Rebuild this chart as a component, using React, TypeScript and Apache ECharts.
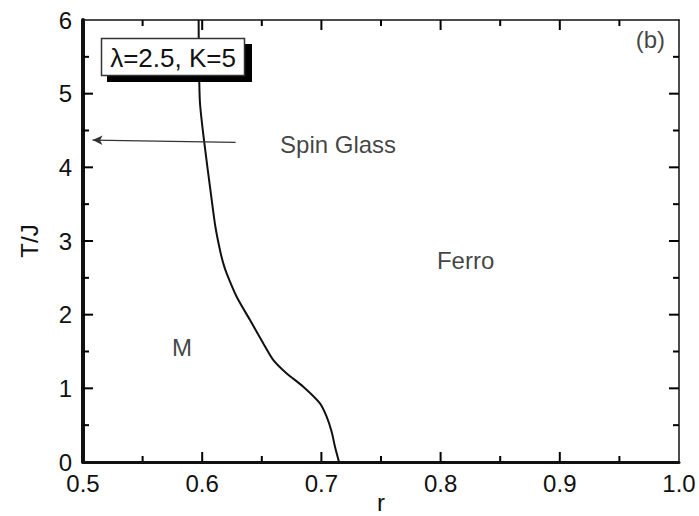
import React, { useEffect, useRef } from "react";
import * as echarts from "echarts";

// Phase boundary T_c(r)
const boundaryT = [0, 0.208, 0.411, 0.615, 0.796, 1.022, 1.203, 1.384, 1.61, 1.927, 2.243, 2.56, 2.696, 2.877, 3.2, 3.555, 4.37, 4.91, 6.0];
const boundaryR = [0.7148, 0.7114, 0.7086, 0.7044, 0.6988, 0.6848, 0.6709, 0.6597, 0.6513, 0.6401, 0.6289, 0.6205, 0.6177, 0.6149, 0.611, 0.608, 0.6015, 0.598, 0.597];

// Arrow annotation (from -> to)
const arrowFrom = [0.628, 4.34];
const arrowTo = [0.508, 4.37];

// Region labels
const labelTexts = ["Spin Glass", "Ferro", "M", "(b)"];
const labelR = [0.714, 0.821, 0.583, 0.976];
const labelT = [4.315, 2.74, 1.55, 5.73];

// Tick positions (inward ticks on all four sides)
const xMajorTicks = [0.6, 0.7, 0.8, 0.9];
const xMinorTicks = [0.55, 0.65, 0.75, 0.85, 0.95];
const yMajorTicks = [1, 2, 3, 4, 5];
const yMinorTicks = [0.5, 1.5, 2.5, 3.5, 4.5, 5.5];

const xTickLabels = ["0.5", "0.6", "0.7", "0.8", "0.9", "1.0"];
const legendText = "λ=2.5, K=5";

const FONT = "'Liberation Sans', Arial, Helvetica, sans-serif";
const INK = "#111111";
const X_MIN = 0.5, X_MAX = 1.0, Y_MIN = 0, Y_MAX = 6;

export default function App() {
  const ref = useRef<HTMLDivElement>(null);
  useEffect(() => {
    document.body.style.margin = "0";
    if (!ref.current) return;
    const chart = echarts.init(ref.current, undefined, { renderer: "svg" });
    const ax = (pos: string, isX: boolean, lineWidth: number) => ({
      type: "value",
      min: isX ? X_MIN : Y_MIN,
      max: isX ? X_MAX : Y_MAX,
      interval: isX ? 0.1 : 1,
      position: pos,
      axisLine: { show: true, onZero: false, lineStyle: { color: INK, width: lineWidth } },
      axisTick: { show: false },
      minorTick: { show: false },
      splitLine: { show: false },
      axisLabel: { show: false },
    });
    const xBottom: any = {
      ...ax("bottom", true, 3),
      name: "r",
      nameLocation: "middle",
      nameGap: 28,
      nameMoveOverlap: false,
      nameTextStyle: { fontFamily: FONT, fontSize: 24, color: INK },
      axisLabel: {
        show: true,
        fontFamily: FONT,
        fontSize: 24,
        color: INK,
        margin: 9,
        formatter: (v: number) => {
          const idx = Math.round((v - X_MIN) / 0.1);
          return xTickLabels[idx] ?? v.toFixed(1);
        },
      },
    };
    const yLeft: any = {
      ...ax("left", false, 4),
      name: "T/J",
      nameLocation: "middle",
      nameGap: 42,
      nameRotate: 90,
      nameMoveOverlap: false,
      nameTextStyle: { fontFamily: FONT, fontSize: 24, color: INK },
      axisLabel: { show: true, fontFamily: FONT, fontSize: 24, color: INK, margin: 11 },
    };

    // tick data: [value, tick length in px, orientation(0 = x, 1 = y)]
    const tickData: number[][] = [
      ...xMajorTicks.map((v) => [v, 10, 0]),
      ...xMinorTicks.map((v) => [v, 6, 0]),
      ...yMajorTicks.map((v) => [v, 10, 1]),
      ...yMinorTicks.map((v) => [v, 6, 1]),
    ];

    chart.setOption({
      animation: false,
      backgroundColor: "#ffffff",
      grid: { left: 83, right: 20, top: 20, bottom: 54, containLabel: false, outerBoundsMode: "none" },
      xAxis: [xBottom, ax("top", true, 1.5)],
      yAxis: [yLeft, ax("right", false, 1.5)],
      series: [
        {
          type: "line",
          xAxisIndex: 0,
          yAxisIndex: 0,
          data: boundaryT.map((t, i) => [boundaryR[i], t]),
          smooth: 0.25,
          showSymbol: false,
          symbol: "none",
          lineStyle: { color: INK, width: 2 },
          z: 3,
          markLine: {
            silent: true,
            symbol: ["none", "arrow"],
            symbolSize: [7, 10],
            label: { show: false },
            lineStyle: { color: "#333", width: 1.2, type: "solid" },
            data: [[{ coord: arrowFrom }, { coord: arrowTo }]],
          },
        },
        {
          type: "custom",
          xAxisIndex: 0,
          yAxisIndex: 0,
          silent: true,
          clip: false,
          z: 20,
          dimensions: ["pos", "len", "orient"],
          encode: { x: 0 },
          data: tickData,
          renderItem: (_params: any, api: any) => {
            const v = api.value(0);
            const len = api.value(1);
            const orient = api.value(2);
            const style = { stroke: "#000", lineWidth: 2 };
            if (orient === 0) {
              const b = api.coord([v, Y_MIN]);
              const t = api.coord([v, Y_MAX]);
              return {
                type: "group",
                children: [
                  { type: "line", shape: { x1: b[0], y1: b[1], x2: b[0], y2: b[1] - len }, style },
                  { type: "line", shape: { x1: t[0], y1: t[1], x2: t[0], y2: t[1] + len }, style },
                ],
              };
            }
            const l = api.coord([X_MIN, v]);
            const r = api.coord([X_MAX, v]);
            return {
              type: "group",
              children: [
                { type: "line", shape: { x1: l[0], y1: l[1], x2: l[0] + len, y2: l[1] }, style },
                { type: "line", shape: { x1: r[0], y1: r[1], x2: r[0] - len, y2: r[1] }, style },
              ],
            };
          },
        },
        {
          type: "scatter",
          xAxisIndex: 0,
          yAxisIndex: 0,
          data: labelTexts.map((t, i) => ({ value: [labelR[i], labelT[i]], name: t })),
          symbolSize: 0,
          label: {
            show: true,
            position: "inside",
            formatter: (p: any) => p.name,
            fontFamily: FONT,
            fontSize: 24,
            color: INK,
          },
          silent: true,
        },
      ],
      graphic: [
        { type: "rect", shape: { x: 107, y: 44, width: 145, height: 38 }, style: { fill: "#000" }, z: 10 },
        { type: "rect", shape: { x: 101.5, y: 38.5, width: 143, height: 37 }, style: { fill: "#fff", stroke: "#333", lineWidth: 1.5 }, z: 11 },
        {
          type: "text",
          x: 173,
          y: 57.5,
          style: { text: legendText, fontFamily: FONT, fontSize: 26, fill: INK, align: "center", verticalAlign: "middle" },
          z: 12,
        },
      ],
    });
    return () => chart.dispose();
  }, []);
  return <div ref={ref} style={{ width: 699, height: 516 }} />;
}
